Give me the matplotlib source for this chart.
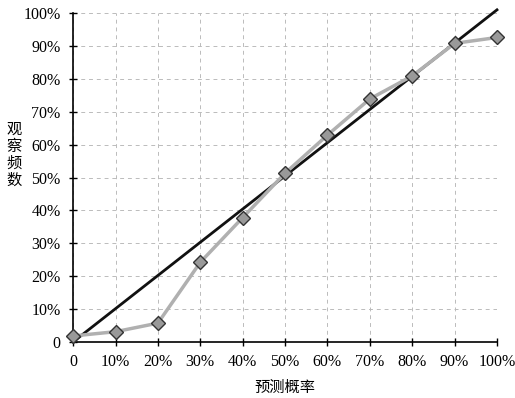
import matplotlib.pyplot as plt

pred = [0, 10, 20, 30, 40, 50, 60, 70, 80, 90, 100]
observed = [1.8, 3.1, 5.7, 24.2, 37.8, 51.3, 62.9, 73.9, 80.9, 90.8, 92.6]
ideal_x = [0, 100]
ideal_y = [0, 101]
tick_labels = ['0', '10%', '20%', '30%', '40%', '50%', '60%', '70%', '80%', '90%', '100%']

plt.rcParams['font.family'] = ['Liberation Serif', 'Noto Sans CJK SC']

fig = plt.figure(figsize=(5.15, 3.98), dpi=100)
ax = fig.add_axes([0.142, 0.141, 0.823, 0.826])

ax.plot(ideal_x, ideal_y, color='#111111', lw=2, zorder=3, clip_on=False)
ax.plot(pred, observed, color='#b0b0b0', lw=2.5, marker='D', markersize=7.5,
        markerfacecolor='#999999', markeredgecolor='#333333', markeredgewidth=1,
        zorder=4, clip_on=False)

ax.set_xlim(0, 100)
ax.set_ylim(0, 100)
ax.set_xticks(pred)
ax.set_xticklabels(tick_labels)
ax.set_yticks(pred)
ax.set_yticklabels(tick_labels)
ax.tick_params(direction='inout', length=6, width=1, labelsize=11.5, pad=6)
ax.grid(True, ls=(0, (4, 4)), color='#bbbbbb', lw=0.7)
for s in ['top', 'right']:
    ax.spines[s].set_visible(False)
ax.spines['left'].set_linewidth(1.2)
ax.spines['bottom'].set_linewidth(1.2)

ax.set_xlabel('预测概率', fontsize=11, family=['Noto Sans CJK SC'], labelpad=6)
fig.text(0.028, 0.61, '观\n察\n频\n数', fontsize=11, family=['Noto Sans CJK SC'],
         ha='center', va='center', linespacing=1.0)

fig.savefig('out.png', dpi=100)
